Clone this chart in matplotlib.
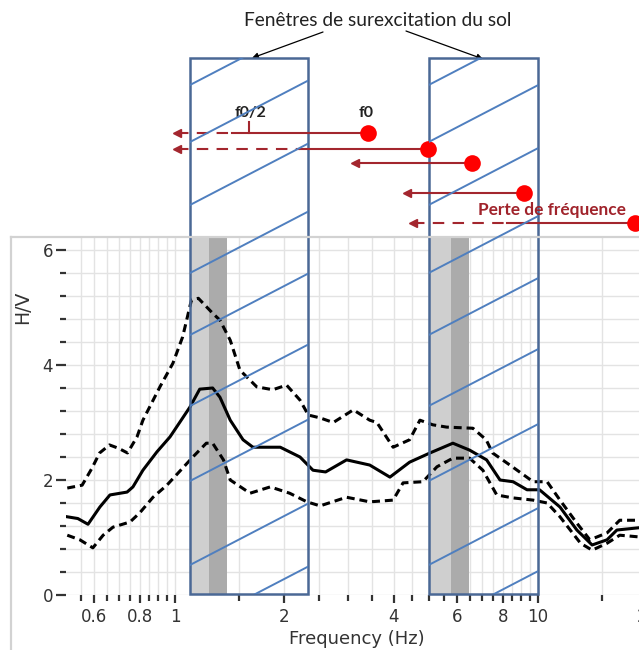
import numpy as np
import matplotlib
matplotlib.use("Agg")
import matplotlib.pyplot as plt
from matplotlib import transforms
from matplotlib.lines import Line2D
from matplotlib.patches import Rectangle

# 1. DATA (H/V curve)
freq_mean = [0.505, 0.54, 0.576, 0.621, 0.662, 0.738, 0.766, 0.816, 0.892, 0.969,
             1.03, 1.10, 1.17, 1.27, 1.33, 1.42, 1.54, 1.64, 1.95, 2.21,
             2.40, 2.6, 2.97, 3.44, 3.91, 4.43, 5.04, 5.83, 6.48, 7.22,
             7.86, 8.54, 9.33, 10.1, 11.5, 12.8, 14.1, 15.5, 16.5, 19.0, 22]
hv_mean = [1.36, 1.33, 1.23, 1.53, 1.74, 1.79, 1.88, 2.17, 2.49, 2.75,
           3.0, 3.27, 3.58, 3.60, 3.44, 3.04, 2.70, 2.57, 2.57, 2.40,
           2.17, 2.14, 2.35, 2.26, 2.05, 2.31, 2.47, 2.64, 2.52, 2.35,
           2.0, 1.97, 1.83, 1.83, 1.53, 1.13, 0.87, 0.96, 1.13, 1.17, 1.2]

freq_up = [0.505, 0.555, 0.59, 0.62, 0.66, 0.70, 0.74, 0.786, 0.816, 0.909,
           0.987, 1.05, 1.11, 1.16, 1.27, 1.33, 1.42, 1.51, 1.68, 1.86,
           2.03, 2.21, 2.33, 2.51, 2.73, 3.1, 3.44, 3.6, 3.99, 4.43,
           4.73, 5.13, 5.6, 6.62, 7.2, 7.5, 8.5, 9.7, 10.6, 11.5,
           12.8, 13.9, 15.5, 16.8, 19.0, 22]
hv_up = [1.86, 1.91, 2.2, 2.47, 2.61, 2.55, 2.47, 2.75, 3.04, 3.62,
         4.03, 4.49, 5.13, 5.16, 4.9, 4.78, 4.43, 3.91, 3.62, 3.57,
         3.65, 3.39, 3.13, 3.08, 3.0, 3.22, 3.04, 3.0, 2.57, 2.7,
         3.04, 2.96, 2.92, 2.9, 2.7, 2.47, 2.23, 1.97, 1.97, 1.65,
         1.25, 0.96, 1.08, 1.3, 1.3, 1.3]

freq_lo = [0.505, 0.547, 0.594, 0.634, 0.675, 0.752, 0.80, 0.87, 0.95, 1.03,
           1.12, 1.22, 1.27, 1.36, 1.42, 1.61, 1.83, 2.07, 2.31, 2.51,
           2.97, 3.44, 3.99, 4.25, 4.82, 5.27, 5.83, 6.48, 7.05, 7.7,
           8.5, 9.7, 10.6, 11.5, 13.1, 14.1, 15.5, 16.8, 19.0, 22]
hv_lo = [1.04, 0.96, 0.82, 1.04, 1.18, 1.27, 1.43, 1.70, 1.91, 2.15,
         2.40, 2.64, 2.64, 2.35, 2.0, 1.77, 1.88, 1.77, 1.62, 1.55,
         1.70, 1.62, 1.65, 1.95, 1.97, 2.23, 2.38, 2.38, 2.17, 1.74,
         1.69, 1.65, 1.60, 1.36, 0.90, 0.78, 0.90, 1.04, 1.01, 1.02]

# peak bands (light / dark gray) and excitation windows, in Hz
band_light = [(1.10, 1.24), (5.04, 5.76)]
band_dark = [(1.24, 1.39), (5.76, 6.45)]
window_lo = [1.10, 5.0]
window_hi = [2.33, 10.0]

# frequency shift arrows: dot -> solid part -> dashed part -> head
dot_freq = [3.40, 4.98, 6.58, 9.14, 18.5]
solid_to = [1.44, 2.21, 3.13, 4.35, 8.2]
arrow_to = [1.01, 1.01, 3.13, 4.35, 4.52]
half_f0 = 1.60

xticks_major = [0.6, 0.8, 1, 2, 4, 6, 8, 10, 20]
xtick_labels = ["0.6", "0.8", "1", "2", "4", "6", "8", "10", "20"]
yticks_major = [0, 2, 4, 6]

# 2. FIGURE / AXES (pixel layout)
W, H = 639, 650
fig = plt.figure(figsize=(W / 100, H / 100), dpi=100)


def fx(px):
    return px / W


def fy(py):
    return 1 - py / H


ax = fig.add_axes([fx(65.7), fy(595), fx(682.4 - 65.7), (595 - 237) / H])
ax.set_xscale("log")
ax.set_xlim(0.5, 25)
ax.set_ylim(0, 6.226)

minor_x = list(np.arange(0.55, 1.0, 0.05)) + [1.5] + list(np.arange(2.5, 10, 0.5)) + [15]
minor_x = [m for m in minor_x if min(abs(m - t) for t in xticks_major) > 1e-6]
ax.set_xticks(xticks_major)
ax.set_xticklabels(xtick_labels)
ax.set_xticks(minor_x, minor=True)
ax.xaxis.set_minor_formatter(plt.NullFormatter())
ax.set_yticks(yticks_major)
ax.set_yticks([v for v in np.arange(0.4, 6.1, 0.4) if abs(v / 2 - round(v / 2)) > 1e-6], minor=True)

for s in ax.spines.values():
    s.set_visible(False)
ax.set_axisbelow(True)
ax.grid(True, which="both", color="#e3e3e3", lw=1.0)
ax.tick_params(axis="both", which="major", length=7, width=1.6, color="#333333",
               labelsize=12, labelcolor="#333333", pad=2)
ax.tick_params(axis="both", which="minor", length=4, width=1.6, color="#333333")
ax.tick_params(axis="x", which="major", length=6, pad=3)

# 3. CURVES
for lo, hi in band_light:
    ax.axvspan(lo, hi, color="#cfcfcf", lw=0, zorder=1)
for lo, hi in band_dark:
    ax.axvspan(lo, hi, color="#ababab", lw=0, zorder=1)

ax.plot(freq_up, hv_up, color="black", lw=2.2, dashes=(2.6, 1.6), zorder=3)
ax.plot(freq_lo, hv_lo, color="black", lw=2.2, dashes=(2.6, 1.6), zorder=3)
ax.plot(freq_mean, hv_mean, color="black", lw=2.2, zorder=3)

fig.text(fx(23), fy(307), "H/V", rotation=90, ha="center", va="center",
         fontsize=13.5, color="#333333")
fig.text(fx(357), fy(639), "Frequency (Hz)", ha="center", va="center",
         fontsize=13, color="#333333")

# screenshot frame
fig.add_artist(Line2D([fx(11), 1], [fy(237), fy(237)], transform=fig.transFigure,
                      color="#d2d2d2", lw=1.6))
fig.add_artist(Line2D([fx(11), fx(11)], [fy(237), 0], transform=fig.transFigure,
                      color="#d2d2d2", lw=1.6))

# 4. OVERLAY: excitation windows with hatching
blend = transforms.blended_transform_factory(ax.transData, fig.transFigure)
hatch_rows = [85, 142, 205, 273, 335, 406, 481, 565, 628]
for lo, hi in zip(window_lo, window_hi):
    rect = Rectangle((lo, fy(594)), hi - lo, fy(58) - fy(594), transform=blend,
                     fill=False, ec="#4a6895", lw=1.8, clip_on=False, zorder=6)
    ax.add_patch(rect)
    xl = ax.transData.transform((lo, 1))[0]
    for r in hatch_rows:
        ln = Line2D([xl - 5, xl + 300], [H - r - 0.52 * 5, H - r + 0.52 * 300],
                    transform=transforms.IdentityTransform(), color="#4f7fbf",
                    lw=1.4, zorder=5)
        ln.set_clip_path(rect)
        fig.add_artist(ln)

fig.text(fx(378), fy(20), "Fenêtres de surexcitation du sol", ha="center", va="center",
         fontsize=13.8, family="Lato", color="#222222")
ax.annotate("", xy=(fx(252), fy(58)), xytext=(fx(323), fy(32)),
            xycoords="figure fraction", textcoords="figure fraction",
            arrowprops=dict(arrowstyle="-|>", color="black", lw=0.9,
                            mutation_scale=9, shrinkA=0, shrinkB=0),
            annotation_clip=False)
ax.annotate("", xy=(fx(483), fy(59)), xytext=(fx(406), fy(31)),
            xycoords="figure fraction", textcoords="figure fraction",
            arrowprops=dict(arrowstyle="-|>", color="black", lw=0.9,
                            mutation_scale=9, shrinkA=0, shrinkB=0),
            annotation_clip=False)

# 5. OVERLAY: frequency shift arrows
red = "#a3262e"
row_y = [133, 149, 163, 193, 223]
for fd, fs, fa, py in zip(dot_freq, solid_to, arrow_to, row_y):
    y = fy(py)
    ax.plot([fs, fd], [y, y], color=red, lw=1.5, transform=blend, clip_on=False, zorder=7)
    if fa < fs:
        ax.plot([fa, fs], [y, y], color=red, lw=1.5, dashes=(5.5, 4),
                transform=blend, clip_on=False, zorder=7)
    ax.plot([fa], [y], marker="<", ms=5.5, color=red, transform=blend,
            clip_on=False, zorder=7)
    ax.plot([fd], [y], marker="o", ms=12, color="#ff0000", mec="none",
            transform=blend, clip_on=False, zorder=8)

ax.plot([half_f0, half_f0], [fy(133), fy(122)], color=red, lw=1.5,
        transform=blend, clip_on=False, zorder=7)
ax.text(half_f0 * 1.01, fy(113), "f0/2", transform=blend, ha="center", va="center",
        fontsize=11.5, family="Lato", fontweight="bold", color="#222222")
ax.text(dot_freq[0] * 0.99, fy(113), "f0", transform=blend, ha="center", va="center",
        fontsize=11.5, family="Lato", fontweight="bold", color="#222222")
ax.text(10.9, fy(210), "Perte de fréquence", transform=blend, ha="center", va="center",
        fontsize=12.4, family="Lato", fontweight="bold", color="#a0232b", zorder=9)

plt.savefig("out.png", dpi=100)
plt.close()
